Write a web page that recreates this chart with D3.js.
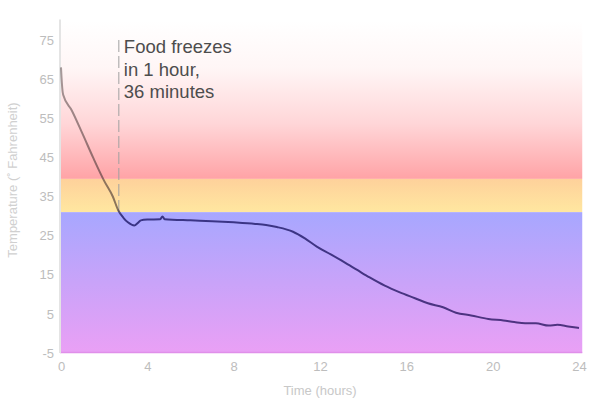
<!DOCTYPE html>
<html>
<head>
<meta charset="utf-8">
<script src="https://cdn.jsdelivr.net/npm/d3@7/dist/d3.min.js"></script>
<style>
  body { margin: 0; background: #fff; }
  svg { display: block; font-family: "Liberation Sans", Arial, sans-serif; }
</style>
</head>
<body>
<svg width="590" height="405"></svg>
<script>
// temperature of the food, hours vs degrees F
const hours = [0, 0.04, 0.1, 0.5, 1.0, 1.5, 2.0, 2.4, 2.65, 2.9, 3.1, 3.4, 3.55, 3.7, 4.0, 4.6, 4.7, 4.8,
  6.0, 7.0, 8.0, 9.0, 9.5, 10.0, 10.75, 11.3, 11.85, 12.5, 13.1, 13.7, 14.3, 15.0, 15.7, 16.4,
  17.0, 17.7, 18.3, 19.0, 19.8, 20.5, 21.0, 21.5, 22.0, 22.6, 23.0, 23.5, 24];
const temps = [68, 64, 61, 57.0, 51.0, 44.8, 39, 35, 31.5, 29.5, 28.4, 27.6, 28.2, 28.9, 29.1, 29.2, 29.9, 29.2,
  28.9, 28.7, 28.4, 28.0, 27.7, 27.2, 26.0, 24.3, 22.2, 20.2, 18.3, 16.3, 14.3, 12.2, 10.5, 9.0,
  7.7, 6.7, 5.3, 4.6, 3.7, 3.3, 2.9, 2.6, 2.6, 2.0, 2.2, 1.8, 1.4];

const xTicks = [0, 4, 8, 12, 16, 20, 24];
const yTicks = [-5, 5, 15, 25, 35, 45, 55, 65, 75];

// zones: [top, bottom] in degrees F
const dangerZone = [80, 39.5];
const chillZone = [39.5, 31];
const frozenZone = [31, -5];

const freezeHour = 2.68;
const freezeLabel = ["Food freezes", "in 1 hour,", "36 minutes"];

const svg = d3.select("svg");
const x = d3.scaleLinear().domain([0, 24]).range([61, 579]);
const y = d3.scaleLinear().domain([-5, 75]).range([353, 40]);
const xLeft = x(-0.05), xRight = x(24.15);

const defs = svg.append("defs");
function grad(id, stops) {
  const g = defs.append("linearGradient").attr("id", id)
    .attr("x1", 0).attr("y1", 0).attr("x2", 0).attr("y2", 1);
  stops.forEach(s => g.append("stop").attr("offset", s[0]).attr("stop-color", s[1])
    .attr("stop-opacity", s[2] == null ? 1 : s[2]));
  return g;
}
grad("gDanger", [[0, "#ffffff"], [0.3, "#fff6f6"], [0.65, "#ffd6d8"], [1, "#ffa3a6"]]);
grad("gChill", [[0, "#fed19b"], [1, "#ffe7a0"]]);
grad("gFrozen", [[0, "#a7a7ff"], [0.5, "#c9a3f9"], [1, "#eaa0f5"]]);

// line looks greyish above freezing, navy below
const freezeOff = (y(75) - y(31)) / (y(75) - y(-5));
grad("gLine", [[0, "#4a3a3a", 0.45], [freezeOff - 0.01, "#3a2a2a", 0.6],
  [freezeOff + 0.01, "#2a2575", 0.88], [1, "#3a1f6a", 0.85]])
  .attr("gradientUnits", "userSpaceOnUse")
  .attr("x1", 0).attr("x2", 0).attr("y1", y(75)).attr("y2", y(-5));

const zones = [[dangerZone, "gDanger"], [chillZone, "gChill"], [frozenZone, "gFrozen"]];
svg.selectAll(".zone")
  .data(zones)
  .enter()
  .append("rect")
  .attr("class", "zone")
  .attr("x", xLeft)
  .attr("width", xRight - xLeft)
  .attr("y", d => y(d[0][0]))
  .attr("height", d => y(d[0][1]) - y(d[0][0]))
  .attr("fill", d => `url(#${d[1]})`);

// bottom edge of the fill
svg.append("line")
  .attr("x1", xLeft).attr("x2", xRight)
  .attr("y1", y(-5) - 0.5).attr("y2", y(-5) - 0.5)
  .attr("stroke", "#e08fea").attr("stroke-width", 1.5);

// left axis line
svg.append("line")
  .attr("x1", 60).attr("x2", 60)
  .attr("y1", y(80) - 1).attr("y2", y(-5))
  .attr("stroke", "#e4e4e4").attr("stroke-width", 2);

// freeze marker
svg.append("line")
  .attr("x1", x(freezeHour)).attr("x2", x(freezeHour))
  .attr("y1", y(75)).attr("y2", y(31))
  .attr("stroke", "#a0a0a0").attr("stroke-width", 1)
  .attr("stroke-dasharray", "12,4");

const ann = svg.append("text")
  .attr("x", x(freezeHour) + 5)
  .attr("y", 53)
  .attr("fill", "#4d4d4d")
  .style("font-size", "18.5px");
ann.selectAll("tspan")
  .data(freezeLabel)
  .enter()
  .append("tspan")
  .attr("x", x(freezeHour) + 5)
  .attr("dy", (d, i) => i === 0 ? 0 : 22.5)
  .text(d => d);

// temperature line
const line = d3.line()
  .x((d, i) => x(hours[i]))
  .y(d => y(d))
  .curve(d3.curveMonotoneX);

svg.append("path")
  .datum(temps)
  .attr("d", line)
  .attr("fill", "none")
  .attr("stroke", "url(#gLine)")
  .attr("stroke-width", 2)
  .attr("stroke-linejoin", "round");

// axes
svg.append("g")
  .attr("transform", "translate(0,367)")
  .call(d3.axisBottom(x).tickValues(xTicks).tickSize(0).tickPadding(0))
  .call(g => g.select(".domain").remove())
  .call(g => g.selectAll("text")
    .attr("fill", "#bdbdbd").style("font-size", "13px")
    .style("font-family", "'Liberation Sans', Arial, sans-serif")
    .attr("dy", "0.32em"));

svg.append("g")
  .attr("transform", "translate(54,0)")
  .call(d3.axisLeft(y).tickValues(yTicks).tickFormat(d => String(d)).tickSize(0).tickPadding(0))
  .call(g => g.select(".domain").remove())
  .call(g => g.selectAll("text")
    .attr("fill", "#bdbdbd").style("font-size", "13px")
    .style("font-family", "'Liberation Sans', Arial, sans-serif"));

svg.append("text")
  .attr("x", x(12))
  .attr("y", 395)
  .attr("text-anchor", "middle")
  .attr("fill", "#c8c8c8")
  .style("font-size", "13px")
  .text("Time (hours)");

svg.append("text")
  .attr("transform", "translate(17,180) rotate(-90)")
  .attr("text-anchor", "middle")
  .attr("fill", "#d0d0d0")
  .style("font-size", "13px")
  .text("Temperature (˚ Fahrenheit)");
</script>
</body>
</html>
